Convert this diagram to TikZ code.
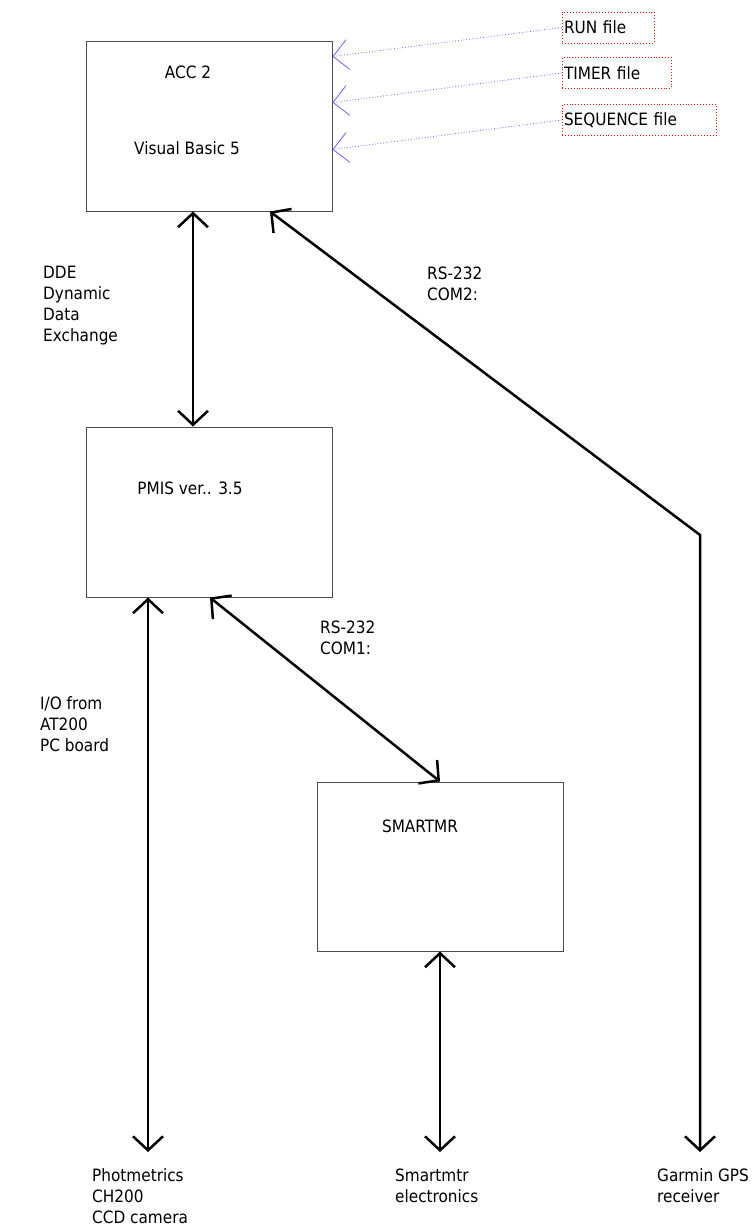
\documentclass[tikz,border=0pt]{standalone}
\usepackage{fontspec}
\setmainfont{DejaVu Sans Condensed}
\usetikzlibrary{arrows.meta,positioning}
\tikzset{
  block/.style={draw=black!70, line width=1pt, minimum width=246pt, minimum height=169pt, inner sep=0pt},
  filebox/.style={draw=red, dotted, line width=0.9pt, minimum height=31pt, inner sep=2pt, align=left},
  txt/.style={inner sep=0pt, align=left},
  link/.style={line width=2.5pt, {Straight Barb[length=14pt,width=30pt]}-{Straight Barb[length=14pt,width=30pt]}},
  feed/.style={blue!60, dotted, line width=0.8pt, -{Straight Barb[length=15pt,width=30pt]}},
}
\begin{document}
\begin{tikzpicture}[x=1pt, y=-1pt, font=\fontsize{17}{21}\selectfont]
  \useasboundingbox[fill=white] (0,0) rectangle (752,1231);

  % program boxes
  \node[block] (acc) at (209,126.5) {};
  \node[block, minimum height=170pt] (pmis) at (209,512) {};
  \node[block] (smart) at (440,866.5) {};
  \node[txt] (acctitle) at (188,72) {ACC 2};
  \node[txt] (accsub) at (187,148) {Visual Basic 5};
  \node[txt] (pmistitle) at (190,488) {PMIS ver.. 3.5};
  \node[txt] (smarttitle) at (420,826) {SMARTMR};

  % input files
  \node[filebox, text width=88pt] (runf) at (608,27.5) {RUN file};
  \node[filebox, text width=105pt] (timerf) at (616.5,73) {TIMER file};
  \node[filebox, text width=150pt] (seqf) at (639,120) {SEQUENCE file};
  \draw[feed] (runf.west) -- ([yshift=-15pt]acc.north east);
  \draw[feed] (timerf.west) -- ([yshift=-61pt]acc.north east);
  \draw[feed] (seqf.west) -- ([yshift=-108pt]acc.north east);

  % link labels
  \node[txt, anchor=north west] (dde) at (43,265.5) {DDE\\Dynamic\\Data\\Exchange};
  \node[txt, anchor=north west] (com2) at (427,266.5) {RS-232\\COM2:};
  \node[txt, anchor=north west] (com1) at (320,620.5) {RS-232\\COM1:};
  \node[txt, anchor=north west] (io) at (40,696.5) {I/O from\\AT200\\PC board};

  % hardware
  \node[txt, anchor=north west] (camera) at (92,1168.5) {Photmetrics\\CH200\\CCD camera};
  \node[txt, anchor=north west] (electr) at (395,1168.5) {Smartmtr\\electronics};
  \node[txt, anchor=north west] (garmin) at (657,1168.5) {Garmin GPS\\receiver};
  \coordinate (camend) at (148,1152);
  \coordinate (electrend) at (440,1152);
  \coordinate (gpsbend) at (700,535);
  \coordinate (gpsend) at (700,1152);

  % connections
  \draw[link] ([xshift=-16pt]acc.south) -- ([xshift=-16pt]pmis.north);
  \draw[link] ([xshift=61pt]acc.south) -- (gpsbend) -- (gpsend);
  \draw[link] ([xshift=-61pt]pmis.south) -- (camend);
  \draw[link] ([xshift=1pt]pmis.south) -- (smart.north);
  \draw[link] (smart.south) -- (electrend);
\end{tikzpicture}
\end{document}
